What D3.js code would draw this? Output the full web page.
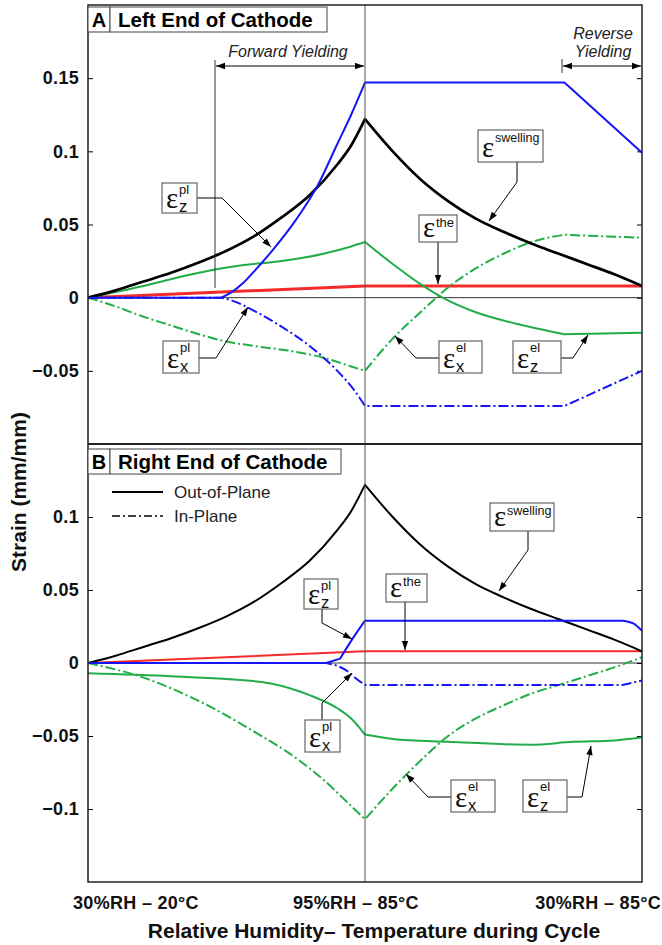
<!DOCTYPE html>
<html><head><meta charset="utf-8">
<script src="https://cdn.jsdelivr.net/npm/d3@7"></script>
<style>body{margin:0;background:#fff}svg{display:block}</style>
</head><body>
<svg id="c" width="662" height="945"></svg>
<script>
// ---- data (x: cycle position 0..2, y: strain mm/mm) ----
const xTickLabels = ["30%RH – 20°C", "95%RH – 85°C", "30%RH – 85°C"];
const ticksA = [0.15, 0.1, 0.05, 0, -0.05];
const ticksB = [0.1, 0.05, 0, -0.05, -0.1];

const A_swelling = [[0,0],[0.1,0.005],[0.2,0.011],[0.3,0.017],[0.4,0.024],[0.5,0.032],[0.6,0.042],[0.7,0.055],[0.8,0.07],[0.9,0.091],[0.95,0.104],[1,0.122],[1.1,0.1],[1.2,0.081],[1.3,0.066],[1.4,0.054],[1.5,0.045],[1.6,0.037],[1.7,0.030],[1.8,0.023],[1.9,0.016],[2,0.008]];
const A_zpl = [[0,0],[0.48,0],[0.52,0.004],[0.56,0.01],[0.6,0.018],[0.66,0.031],[0.75,0.053],[0.83,0.077],[0.9,0.105],[0.95,0.125],[1,0.147],[1.72,0.147],[2,0.099]];
const A_zel = [[0,0],[0.2,0.008],[0.35,0.015],[0.48,0.02],[0.55,0.022],[0.7,0.025],[0.85,0.03],[0.95,0.035],[1,0.038],[1.1,0.023],[1.21,0.008],[1.28,0],[1.4,-0.01],[1.55,-0.018],[1.72,-0.025],[2,-0.024]];
const A_the = [[0,0],[1,0.008],[2,0.008]];
const A_xel = [[0,0],[0.1,-0.006],[0.2,-0.013],[0.3,-0.019],[0.4,-0.025],[0.5,-0.03],[0.6,-0.033],[0.75,-0.037],[0.85,-0.041],[0.95,-0.047],[1,-0.05],[1.1,-0.028],[1.2,-0.01],[1.3,0.007],[1.4,0.02],[1.5,0.03],[1.6,0.038],[1.72,0.043],[1.85,0.042],[2,0.041]];
const A_xpl = [[0,0],[0.48,0],[0.52,-0.002],[0.6,-0.009],[0.7,-0.02],[0.8,-0.033],[0.9,-0.05],[0.96,-0.063],[1,-0.074],[1.72,-0.074],[2,-0.05]];

const B_swelling = [[0,0],[0.1,0.005],[0.2,0.011],[0.3,0.017],[0.4,0.024],[0.5,0.032],[0.6,0.042],[0.7,0.055],[0.8,0.07],[0.9,0.091],[0.95,0.104],[1,0.122],[1.1,0.1],[1.2,0.081],[1.3,0.066],[1.4,0.054],[1.5,0.045],[1.6,0.037],[1.7,0.030],[1.8,0.023],[1.9,0.016],[2,0.008]];
const B_zpl = [[0,0],[0.86,0],[0.91,0.003],[0.953,0.016],[1,0.029],[1.93,0.029],[1.97,0.027],[2,0.022]];
const B_the = [[0,0],[1,0.008],[2,0.008]];
const B_zel = [[0,-0.007],[0.3,-0.009],[0.5,-0.011],[0.66,-0.014],[0.8,-0.022],[0.9,-0.031],[0.95,-0.038],[1,-0.049],[1.1,-0.052],[1.3,-0.054],[1.6,-0.056],[1.75,-0.054],[1.9,-0.053],[2,-0.051]];
const B_xel = [[0,0],[0.2,-0.01],[0.4,-0.026],[0.6,-0.047],[0.75,-0.065],[0.85,-0.08],[0.95,-0.098],[1,-0.107],[1.1,-0.086],[1.2,-0.067],[1.3,-0.05],[1.4,-0.038],[1.5,-0.029],[1.6,-0.021],[1.7,-0.015],[1.8,-0.009],[1.9,-0.003],[2,0.004]];
const B_xpl = [[0,0],[0.86,0],[0.9,-0.002],[0.94,-0.006],[0.97,-0.011],[1,-0.015],[1.93,-0.015],[2,-0.012]];

// ---- layout ----
const svg = d3.select("#c");
const L = 88, R = 642, TOP = 5, MID = 444, BOT = 882;
const x = d3.scaleLinear().domain([0, 2]).range([L, R]);
const yA = d3.scaleLinear().domain([-0.1, 0.2]).range([MID, TOP]);
const yB = d3.scaleLinear().domain([-0.15, 0.15]).range([BOT, MID]);
const BLUE = "#1515f5", GREEN = "#23ad4a", RED = "#f52a2a";
const DASH = "10,3,2,3";
const FONT = "Arial, 'Liberation Sans', sans-serif";
const SERIF = "'Liberation Serif', 'DejaVu Serif', serif";

const defs = svg.append("defs");
defs.append("marker").attr("id","ah").attr("viewBox","0 0 10 10")
  .attr("refX",10).attr("refY",5).attr("markerWidth",10).attr("markerHeight",9)
  .attr("markerUnits","userSpaceOnUse").attr("orient","auto")
  .append("path").attr("d","M0,1.5 L10,5 L0,8.5 Z").attr("fill","#000");
defs.append("marker").attr("id","ahs").attr("viewBox","0 0 10 10")
  .attr("refX",0).attr("refY",5).attr("markerWidth",10).attr("markerHeight",9)
  .attr("markerUnits","userSpaceOnUse").attr("orient","auto")
  .append("path").attr("d","M10,1.5 L0,5 L10,8.5 Z").attr("fill","#000");

function panel(y, ticks) {
  const g = svg.append("g");
  g.append("line").attr("x1",L).attr("x2",R).attr("y1",y(0)).attr("y2",y(0)).attr("stroke","#333").attr("stroke-width",1);
  const ax = d3.axisLeft(y).tickValues(ticks).tickSize(-5).tickPadding(9)
    .tickFormat(d => d === 0 ? "0" : (d < 0 ? "\u2212" : "") + String(Math.abs(d)));
  const ga = g.append("g").attr("transform",`translate(${L},0)`).call(ax);
  ga.select(".domain").remove();
  ga.selectAll("text").attr("font-family",FONT).attr("font-weight","bold").attr("font-size",18).attr("letter-spacing","0.3px").attr("fill","#111");
  const ar = d3.axisRight(y).tickValues(ticks).tickSize(-5).tickFormat("");
  const gr = g.append("g").attr("transform",`translate(${R},0)`).call(ar);
  gr.select(".domain").remove();
  return g;
}
const gA = panel(yA, ticksA);
const gB = panel(yB, ticksB);

// draw a series as smooth pieces joined at sharp kinks
function draw(g, data, y, color, w, dash, kinks) {
  const line = d3.line().x(d => x(d[0])).y(d => y(d[1])).curve(d3.curveMonotoneX);
  const pieces = [];
  let cur = [];
  data.forEach(d => {
    cur.push(d);
    if ((kinks || []).includes(d[0]) && cur.length > 1) { pieces.push(cur); cur = [d]; }
  });
  if (cur.length > 1) pieces.push(cur);
  const path = pieces.map((p, i) => { const s = line(p); return i ? "L" + s.slice(1) : s; }).join("");
  g.append("path").attr("d", path).attr("fill","none")
    .attr("stroke", color).attr("stroke-width", w).attr("stroke-dasharray", dash || null)
    .attr("stroke-linejoin","round");
}
// panel A
draw(gA, A_the, yA, RED, 3, null, [1]);
draw(gA, A_zel, yA, GREEN, 2, null, [1, 1.72]);
draw(gA, A_xel, yA, GREEN, 2, DASH, [1, 1.72]);
draw(gA, A_xpl, yA, BLUE, 2, DASH, [0.48, 1, 1.72]);
draw(gA, A_swelling, yA, "#000", 2.7, null, [1]);
draw(gA, A_zpl, yA, BLUE, 2, null, [0.48, 1, 1.72]);
// panel B
draw(gB, B_the, yB, RED, 2, null, [1]);
draw(gB, B_zel, yB, GREEN, 2, null, [1]);
draw(gB, B_xel, yB, GREEN, 2, DASH, [1]);
draw(gB, B_xpl, yB, BLUE, 2, DASH, [0.86, 1, 1.93]);
draw(gB, B_swelling, yB, "#000", 2, null, [1]);
draw(gB, B_zpl, yB, BLUE, 2, null, [0.86, 0.91, 1, 1.93]);

// frame, centre line, divider
svg.append("line").attr("x1",x(1)).attr("x2",x(1)).attr("y1",TOP).attr("y2",BOT).attr("stroke","#555").attr("stroke-width",1);
svg.append("rect").attr("x",L).attr("y",TOP).attr("width",R-L).attr("height",BOT-TOP).attr("fill","none").attr("stroke","#222").attr("stroke-width",1.5);
svg.append("line").attr("x1",L).attr("x2",R).attr("y1",MID).attr("y2",MID).attr("stroke","#222").attr("stroke-width",2);

// panel titles
function title(y0, letter, txt, w2) {
  svg.append("rect").attr("x",L).attr("y",y0).attr("width",22).attr("height",25).attr("fill","#fff").attr("stroke","#444");
  svg.append("rect").attr("x",L+22).attr("y",y0).attr("width",w2).attr("height",25).attr("fill","#fff").attr("stroke","#444");
  svg.append("text").attr("x",L+11).attr("y",y0+20).attr("text-anchor","middle").attr("font-family",FONT).attr("font-weight","bold").attr("font-size",20).text(letter);
  svg.append("text").attr("x",L+30).attr("y",y0+20).attr("font-family",FONT).attr("font-weight","bold").attr("font-size",20.5).text(txt);
}
title(7, "A", "Left End of Cathode", 217);
title(449, "B", "Right End of Cathode", 231);

// yielding annotations
const ann = svg.append("g").attr("font-family",FONT).attr("font-style","italic").attr("font-size",16).attr("fill","#222");
svg.append("line").attr("x1",215).attr("x2",215).attr("y1",60).attr("y2",288).attr("stroke","#333");
svg.append("line").attr("x1",216).attr("x2",x(1)-1).attr("y1",66).attr("y2",66).attr("stroke","#000")
  .attr("marker-start","url(#ahs)").attr("marker-end","url(#ah)");
ann.append("text").attr("x",288).attr("y",57).attr("text-anchor","middle").text("Forward Yielding");
svg.append("line").attr("x1",562).attr("x2",562).attr("y1",59).attr("y2",73).attr("stroke","#333");
svg.append("line").attr("x1",563).attr("x2",R-1).attr("y1",66).attr("y2",66).attr("stroke","#000")
  .attr("marker-start","url(#ahs)").attr("marker-end","url(#ah)");
ann.append("text").attr("x",603).attr("y",39).attr("text-anchor","middle").text("Reverse");
ann.append("text").attr("x",603).attr("y",57).attr("text-anchor","middle").text("Yielding");

// strain labels
function label(bx, by, bw, bh, sup, sub, pts) {
  if (pts) svg.append("polyline").attr("points", pts.map(p => p.join(",")).join(" "))
    .attr("fill","none").attr("stroke","#000").attr("stroke-width",1).attr("marker-end","url(#ah)");
  svg.append("rect").attr("x",bx).attr("y",by).attr("width",bw).attr("height",bh).attr("fill","#fff").attr("stroke","#666").attr("stroke-width",1.2);
  const t = svg.append("text").attr("x",bx+4).attr("y",by+bh-5).attr("fill","#111");
  t.append("tspan").attr("font-family",SERIF).attr("font-size",29).text("ε");
  t.append("tspan").attr("x",bx+17).attr("y",by+(sub ? 10.5 : 12)).attr("font-family",FONT).attr("font-size",sup.length > 4 ? 12.5 : 13).text(sup);
  if (sub) t.append("tspan").attr("x",bx+17).attr("y",by+bh-1).attr("font-family",FONT).attr("font-size",16.5).text(sub);
}
// panel A
label(162,183,35,30,"pl","z",[[197,198],[222,198],[271,247]]);
label(478,130,65,32,"swelling",null,[[517,162],[517,182],[489,221]]);
label(419,215,38,27,"the",null,[[438,242],[438,284]]);
label(163,341,36,32,"pl","x",[[199,358],[216,358],[248,307]]);
label(439,341,43,32,"el","x",[[439,358],[416,358],[395,336]]);
label(513,341,48,32,"el","z",[[561,358],[573,358],[588,335]]);
// panel B
label(490,503,64,28,"swelling",null,[[528,531],[528,550],[499,591]]);
label(304,579,34,30,"pl","z",[[322,609],[322,623],[352,639]]);
label(386,574,41,28,"the",null,[[405,602],[405,650]]);
label(305,720,35,32,"pl","x",[[322,720],[322,703],[352,673]]);
label(451,780,44,32,"el","x",[[451,797],[428,797],[406,774]]);
label(523,780,44,32,"el","z",[[567,797],[582,797],[591,746]]);

// legend
const lg = svg.append("g").attr("font-family",FONT).attr("font-size",17).attr("fill","#222");
lg.append("line").attr("x1",112).attr("x2",163).attr("y1",492).attr("y2",492).attr("stroke","#000").attr("stroke-width",2);
lg.append("text").attr("x",174).attr("y",498).text("Out-of-Plane");
lg.append("line").attr("x1",112).attr("x2",163).attr("y1",516).attr("y2",516).attr("stroke","#000").attr("stroke-width",1.5).attr("stroke-dasharray","8,3,2,3");
lg.append("text").attr("x",174).attr("y",522).text("In-Plane");

// x labels
const xl = svg.append("g").attr("font-family",FONT).attr("font-weight","bold").attr("font-size",18).attr("letter-spacing","0.3px").attr("fill","#111");
xl.append("text").attr("x",136).attr("y",909).attr("text-anchor","middle").text(xTickLabels[0]);
xl.append("text").attr("x",356).attr("y",909).attr("text-anchor","middle").text(xTickLabels[1]);
xl.append("text").attr("x",661).attr("y",909).attr("text-anchor","end").text(xTickLabels[2]);
svg.append("text").attr("x",374).attr("y",938).attr("text-anchor","middle").attr("font-family",FONT).attr("font-weight","bold").attr("font-size",21).attr("fill","#111").text("Relative Humidity– Temperature during Cycle");
svg.append("text").attr("transform","translate(26,492) rotate(-90)").attr("text-anchor","middle").attr("font-family",FONT).attr("font-weight","bold").attr("font-size",21).attr("fill","#111").text("Strain (mm/mm)");
</script>
</body></html>
